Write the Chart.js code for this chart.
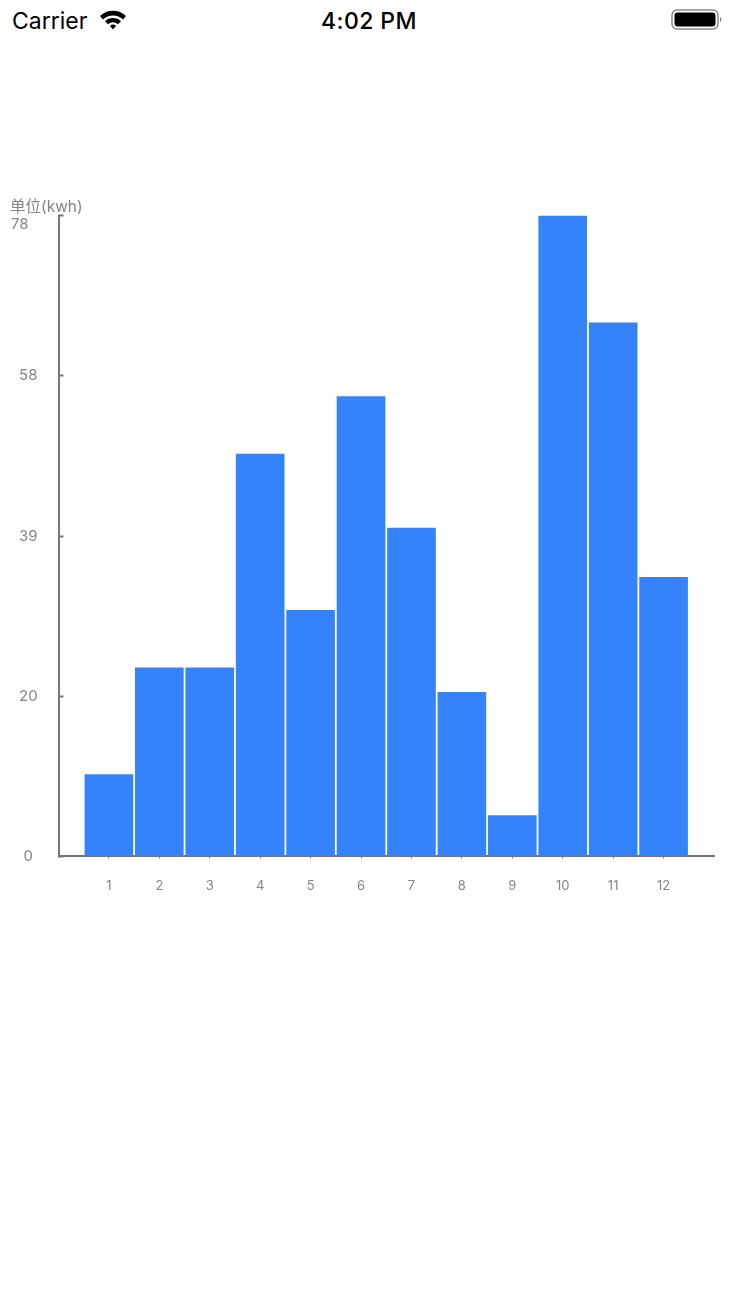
<!DOCTYPE html>
<html>
<head>
<meta charset="utf-8">
<title>单位(kwh)</title>
<script src="https://cdn.jsdelivr.net/npm/chart.js@4"></script>
<style>
  html, body { margin: 0; padding: 0; background: #fff; }
  body { width: 734px; height: 1306px; position: relative; overflow: hidden; font-family: Inter, Roboto, sans-serif; }
  .status { position: absolute; top: 7px; font-size: 23px; line-height: 28px; color: #000; }
  #carrier { left: 12px; }
  #clock { left: 0; width: 738px; text-align: center; font-weight: 500; letter-spacing: 0.4px; }
  #wifi { position: absolute; left: 99px; top: 9px; }
  #battery { position: absolute; left: 671px; top: 9px; }
  #chart-wrap { position: absolute; left: 0; top: 190px; width: 734px; height: 724px; }
</style>
</head>
<body>
<div class="status" id="carrier">Carrier</div>
<svg id="wifi" width="28" height="22" viewBox="0 0 28 22">
  <path d="M1 7 A19 19 0 0 1 27 7 L24 10.5 A14.5 14.5 0 0 0 4 10.5 Z" fill="#000"/>
  <path d="M6 12.3 A11.5 11.5 0 0 1 22 12.3 L19 15.3 A7 7 0 0 0 9 15.3 Z" fill="#000"/>
  <path d="M11 17 A4.4 4.4 0 0 1 17 17 L14 20.5 Z" fill="#000"/>
</svg>
<div class="status" id="clock">4:02 PM</div>
<svg id="battery" width="52" height="22" viewBox="0 0 52 22">
  <rect x="1" y="1" width="46" height="19" rx="5" fill="none" stroke="#888" stroke-width="1.5"/>
  <rect x="3.5" y="3.5" width="41" height="14" rx="3" fill="#000"/>
  <path d="M49 8 C51 8.5 51 12.5 49 13 Z" fill="#888"/>
</svg>
<div id="chart-wrap"><canvas id="chart"></canvas></div>

<script>
const unitLabel = '单位(kwh)';
const months = ['1', '2', '3', '4', '5', '6', '7', '8', '9', '10', '11', '12'];
const usage = [10, 23, 23, 49, 30, 56, 40, 20, 5, 78, 65, 34];
const yTickValues = [0, 19.5, 39, 58.5, 78];
const yTickLabels = ['0', '20', '39', '58', '78'];

const axisColor = '#757575';
const labelColor = '#858585';
const barColor = '#3583fb';
const fontFamily = 'Inter, Roboto, "Noto Sans CJK SC", sans-serif';

document.addEventListener('DOMContentLoaded', () => {
  const ctx = document.getElementById('chart').getContext('2d');

  // blank slots either side so the x axis runs past the first and last bar
  const labels = ['', ...months, ''];
  const values = [null, ...usage, null];

  new Chart(ctx, {
    type: 'bar',
    data: {
      labels: labels,
      datasets: [{
        data: values,
        backgroundColor: barColor,
        barPercentage: 0.965,
        categoryPercentage: 1
      }]
    },
    options: {
      responsive: true,
      maintainAspectRatio: false,
      animation: false,
      layout: { padding: { left: 10, right: 20, top: 0, bottom: 0 } },
      plugins: {
        legend: { display: false },
        tooltip: { enabled: false },
        title: {
          display: true,
          text: unitLabel,
          align: 'start',
          color: labelColor,
          font: { family: fontFamily, size: 15.5, weight: 'normal' },
          padding: { top: 8, bottom: -1 }
        }
      },
      scales: {
        x: {
          offset: false,
          grid: {
            offset: false,
            drawOnChartArea: false,
            tickLength: 2,
            tickColor: c => (c.index === 0 || c.index === labels.length - 1) ? 'transparent' : axisColor
          },
          border: { color: axisColor, width: 2 },
          // tick padding would otherwise also reserve space at the right end
          afterFit: scale => {
            scale.paddingRight = 0;
          },
          ticks: {
            autoSkip: false,
            maxRotation: 0,
            padding: 20,
            color: labelColor,
            font: { family: fontFamily, size: 13 }
          }
        },
        y: {
          min: 0,
          max: 78,
          // negative length so the tick marks point into the plot
          grid: { drawOnChartArea: false, tickLength: -5, tickColor: axisColor, tickWidth: 2 },
          border: { color: axisColor, width: 2 },
          afterBuildTicks: scale => {
            scale.ticks = yTickValues.map(v => ({ value: v }));
          },
          afterFit: scale => {
            scale.width = 48.5;
            scale.paddingTop = 0;
          },
          ticks: {
            crossAlign: 'center',
            padding: 18,
            color: labelColor,
            font: { family: fontFamily, size: 15 },
            // top label sits below and left of its tick in the original
            callback: value => {
              const text = yTickLabels[yTickValues.indexOf(value)];
              return value === 78 ? ['', text + '    '] : text;
            }
          }
        }
      }
    }
  });
});
</script>
</body>
</html>
